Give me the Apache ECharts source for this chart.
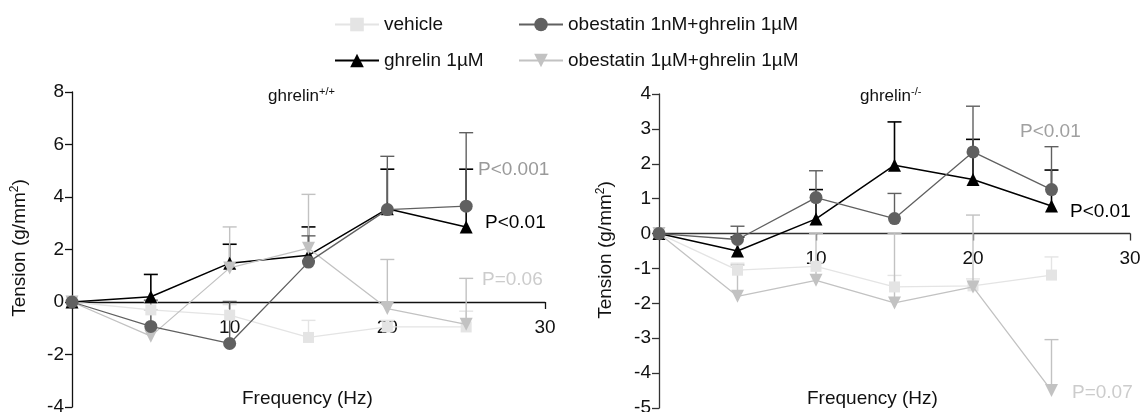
<!DOCTYPE html>
<html>
<head>
<meta charset="utf-8">
<script src="https://cdn.jsdelivr.net/npm/echarts@6/dist/echarts.min.js"></script>
<style>
  html, body { margin: 0; padding: 0; background: #fff; }
  #main { width: 1142px; height: 412px; }
</style>
</head>
<body>
<div id="main"></div>
<script>
// stimulation frequencies (Hz)
const freq = [0, 5, 10, 15, 20, 25];

// ghrelin+/+ (left panel): mean and SEM
const vehicleWT = [0, -0.3, -0.5, -1.35, -0.95, -0.95];
const vehicleWTErr = [0, 0.3, 0.4, 0.65, 0.25, 0.6];
const ghrelinWT = [0, 0.2, 1.48, 1.78, 3.55, 2.86];
const ghrelinWTErr = [0, 0.85, 0.72, 1.08, 1.51, 2.2];
const obe1nWT = [0, -0.93, -1.58, 1.52, 3.52, 3.65];
const obe1nWTErr = [0, 1.0, 1.6, 1.0, 2.03, 2.8];
const obe1uWT = [0, -1.3, 1.3, 2.05, -0.25, -0.85];
const obe1uWTErr = [0, 1.0, 1.56, 2.05, 1.87, 1.75];

// ghrelin-/- (right panel)
const vehicleKO = [0, -1.05, -0.94, -1.53, -1.5, -1.19];
const vehicleKOErr = [0, 0.2, 0.1, 0.33, 0.2, 0.52];
const ghrelinKO = [0, -0.5, 0.42, 1.96, 1.55, 0.79];
const ghrelinKOErr = [0, 0.4, 0.84, 1.24, 1.15, 1.03];
const obe1nKO = [0, -0.17, 1.03, 0.43, 2.34, 1.26];
const obe1nKOErr = [0, 0.38, 0.77, 0.72, 1.31, 1.23];
const obe1uKO = [0, -1.8, -1.34, -1.99, -1.53, -4.5];
const obe1uKOErr = [0, 0.9, 1.35, 2.0, 2.06, 1.46];

const names = ['vehicle', 'ghrelin 1µM', 'obestatin 1nM+ghrelin 1µM', 'obestatin 1µM+ghrelin 1µM'];
const colors = ['#e4e4e4', '#000000', '#606060', '#c2c2c2'];
const symbols = ['rect', 'triangle', 'circle', 'triangle'];
const symbolSizes = [11, 13, 13, 13];
const rotates = [0, 0, 0, 180];

const FONT = 'Liberation Sans, Arial, sans-serif';

// draw order bottom -> top: vehicle, ghrelin, obestatin 1µM, obestatin 1nM
const drawOrder = [0, 1, 3, 2];

const grids = [
    { left: 72, top: 92, width: 473, height: 315, outerBoundsMode: 'none', containLabel: false },
    { left: 659, top: 94, width: 471, height: 314, outerBoundsMode: 'none', containLabel: false }
];
const yRanges = [[-4, 8, 2], [-5, 4, 1]];

function pairs(ys) {
    return freq.map((f, i) => [f, ys[i]]);
}

function errSeries(idx, ys, errs, color) {
    return {
        type: 'custom',
        xAxisIndex: idx,
        yAxisIndex: idx,
        silent: true,
        z: 1,
        data: freq.map((f, i) => [f, ys[i], errs[i]]),
        renderItem: function(params, api) {
            const e = api.value(2);
            if (!e) return null;
            const p0 = api.coord([api.value(0), api.value(1)]);
            const p1 = api.coord([api.value(0), api.value(1) + e]);
            const st = { stroke: color, lineWidth: color === '#000000' ? 1.6 : 1.4 };
            return {
                type: 'group',
                children: [
                    { type: 'line', shape: { x1: p0[0], y1: p0[1], x2: p1[0], y2: p1[1] }, style: st },
                    { type: 'line', shape: { x1: p1[0] - 7, y1: p1[1], x2: p1[0] + 7, y2: p1[1] }, style: st }
                ]
            };
        }
    };
}

function panelSeries(idx, sets) {
    const out = [];
    drawOrder.forEach((k, n) => {
        out.push(errSeries(idx, sets[k][0], sets[k][1], colors[k]));
        out.push({
            type: 'line',
            name: names[k],
            xAxisIndex: idx,
            yAxisIndex: idx,
            data: pairs(sets[k][0]),
            symbol: symbols[k],
            symbolSize: symbolSizes[k],
            symbolRotate: rotates[k],
            showAllSymbol: true,
            z: 2 + n,
            lineStyle: { color: colors[k], width: k === 1 ? 1.5 : 1.3 },
            itemStyle: { color: colors[k], borderWidth: 0 }
        });
    });
    return out;
}

// x axis drawn across y = 0: shift it up from the grid bottom
function xAxis(idx, color) {
    const r = yRanges[idx];
    const shift = (0 - r[0]) / (r[1] - r[0]) * grids[idx].height;
    return {
        type: 'value',
        gridIndex: idx,
        min: 0, max: 30, interval: 10,
        offset: -shift,
        axisLine: { onZero: false, lineStyle: { color: color, width: 1.3 } },
        axisTick: { length: 7, lineStyle: { color: color, width: 1.3 } },
        axisLabel: {
            margin: 16, fontSize: 19, color: '#111', fontFamily: FONT,
            formatter: v => (v === 0 ? '' : v)
        },
        splitLine: { show: false }
    };
}

function yAxis(idx, color) {
    const r = yRanges[idx];
    return {
        type: 'value',
        gridIndex: idx,
        min: r[0], max: r[1], interval: r[2],
        axisLine: { show: true, onZero: false, lineStyle: { color: color, width: 1.3 } },
        axisTick: { show: true, length: 7, lineStyle: { color: color, width: 1.3 } },
        axisLabel: { margin: 8, fontSize: 19, color: '#111', fontFamily: FONT },
        splitLine: { show: false }
    };
}

function txt(x, y, text, color) {
    return {
        type: 'text', x: x, y: y,
        style: { text: text, fill: color, font: '19px ' + FONT, verticalAlign: 'middle', align: 'left' }
    };
}

function richTitle(x, y, base, sup) {
    return {
        type: 'text', x: x, y: y,
        style: {
            text: '{a|' + base + '}{b|' + sup + '}',
            verticalAlign: 'middle', align: 'left',
            rich: {
                a: { fontSize: 17, fontFamily: FONT, fill: '#111', lineHeight: 20 },
                b: { fontSize: 11, fontFamily: FONT, fill: '#111', verticalAlign: 'top', lineHeight: 12 }
            }
        }
    };
}

function yName(x, y) {
    return {
        type: 'text', x: x, y: y, rotation: Math.PI / 2,
        style: {
            text: '{a|Tension (g/mm}{b|2}{a|)}',
            align: 'center', verticalAlign: 'middle',
            rich: {
                a: { fontSize: 19, fontFamily: FONT, fill: '#111', lineHeight: 22 },
                b: { fontSize: 12, fontFamily: FONT, fill: '#111', verticalAlign: 'top', lineHeight: 13 }
            }
        }
    };
}

const legendBase = {
    orient: 'vertical',
    top: 10,
    itemWidth: 44,
    itemHeight: 17,
    itemGap: 17,
    textStyle: { fontSize: 19, color: '#111', fontFamily: FONT }
};

const option = {
    animation: false,
    backgroundColor: '#fff',
    legend: [
        Object.assign({ left: 329, data: [names[0], names[1]] }, legendBase),
        Object.assign({ left: 513, data: [names[2], names[3]] }, legendBase)
    ],
    grid: grids,
    xAxis: [xAxis(0, '#111'), xAxis(1, '#333')],
    yAxis: [yAxis(0, '#111'), yAxis(1, '#333')],
    series: [].concat(
        panelSeries(0, [[vehicleWT, vehicleWTErr], [ghrelinWT, ghrelinWTErr], [obe1nWT, obe1nWTErr], [obe1uWT, obe1uWTErr]]),
        panelSeries(1, [[vehicleKO, vehicleKOErr], [ghrelinKO, ghrelinKOErr], [obe1nKO, obe1nKOErr], [obe1uKO, obe1uKOErr]])
    ),
    graphic: [
        richTitle(268, 96, 'ghrelin', '+/+'),
        richTitle(860, 96, 'ghrelin', '-/-'),
        yName(20, 248),
        yName(606, 250),
        txt(242, 399, 'Frequency (Hz)', '#111'),
        txt(807, 399, 'Frequency (Hz)', '#111'),
        txt(478, 170, 'P<0.001', '#9a9a9a'),
        txt(485, 223, 'P<0.01', '#000'),
        txt(482, 280, 'P=0.06', '#cccccc'),
        txt(1020, 132, 'P<0.01', '#a0a0a0'),
        txt(1070, 212, 'P<0.01', '#000'),
        txt(1072, 393, 'P=0.07', '#cccccc')
    ]
};

const chart = echarts.init(document.getElementById('main'));
chart.setOption(option);
</script>
</body>
</html>
